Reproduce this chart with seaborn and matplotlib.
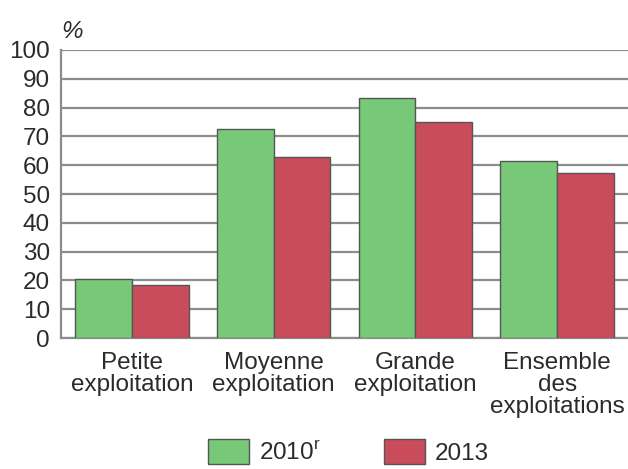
import pandas as pd
import numpy as np
import seaborn as sns
import matplotlib.pyplot as plt
from matplotlib.ticker import FixedLocator

# Données
categories = ["Petite\nexploitation", "Moyenne\nexploitation", "Grande\nexploitation", "Ensemble\ndes\nexploitations"]
years = ["2010$^{\\mathrm{r}}$", "2013"]
values_2010 = [20.5, 72.5, 83.2, 61.5]
values_2013 = [18.3, 62.9, 75.1, 57.2]
y_ticks = [0, 10, 20, 30, 40, 50, 60, 70, 80, 90, 100]

df = pd.DataFrame({
    "categorie": categories * 2,
    "annee": [years[0]] * len(categories) + [years[1]] * len(categories),
    "valeur": values_2010 + values_2013,
})

sns.set_style("white")
plt.rcParams["font.family"] = ["Liberation Sans", "DejaVu Sans"]
plt.rcParams["mathtext.fontset"] = "custom"
plt.rcParams["mathtext.rm"] = "Liberation Sans"

text_color = "#2b2b2b"
grid_color = "#8c8c8c"
fs = 17.5

fig = plt.figure(figsize=(6.28, 4.69), dpi=100)
ax = fig.add_axes([61 / 628, 131 / 469, 1 - 61 / 628, 288 / 469])

sns.barplot(data=df, x="categorie", y="valeur", hue="annee", ax=ax,
            palette=["#77c877", "#c94c5a"], edgecolor="#555555", linewidth=1.0,
            width=0.8, saturation=1, errorbar=None, zorder=3)

ax.set_ylim(0, 100)
ax.set_xlim(-0.5, 3.5)
ax.set_yticks(y_ticks)
ax.yaxis.grid(True, color=grid_color, linewidth=1.6, zorder=0)
ax.set_axisbelow(True)

for side in ["top", "right"]:
    ax.spines[side].set_visible(False)
for side in ["left", "bottom"]:
    ax.spines[side].set_color(grid_color)
    ax.spines[side].set_linewidth(1.6)

ax.tick_params(axis="y", length=0, pad=8, labelsize=fs, labelcolor=text_color)
ax.tick_params(axis="x", which="major", length=0, pad=10, labelsize=fs, labelcolor=text_color)
ax.xaxis.set_minor_locator(FixedLocator([0.5, 1.5, 2.5]))
ax.tick_params(axis="x", which="minor", direction="in", length=4, width=1, color=grid_color)
for lab in ax.get_xticklabels():
    lab.set_linespacing(1.0)

ax.set_xlabel("")
ax.set_ylabel("")
ax.text(0.0, 1.025, "%", transform=ax.transAxes, fontsize=fs, color=text_color,
        ha="left", va="bottom", style="italic")

handles, labels = ax.get_legend_handles_labels()
ax.legend(handles, labels, loc="upper center", bbox_to_anchor=(0.555, 1 - 439 / 469),
          bbox_transform=fig.transFigure, ncol=2, frameon=False, fontsize=fs,
          labelcolor=text_color, handlelength=1.69, handleheight=1.23,
          handletextpad=0.41, columnspacing=2.6, borderpad=0, borderaxespad=0)

plt.savefig("out.png", dpi=100)
